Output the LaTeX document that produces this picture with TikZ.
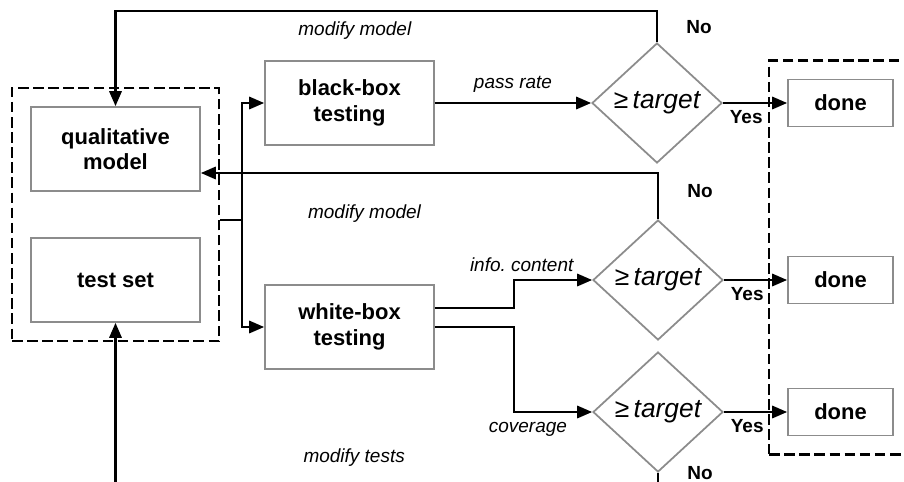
\documentclass[tikz,border=0pt]{standalone}
\usepackage{fontspec}
\setmainfont{Liberation Sans}
\usepackage{xcolor}
\usepackage{tikz}
\usetikzlibrary{arrows.meta,positioning,shapes.geometric,fit,calc}
\definecolor{boxedge}{RGB}{140,140,140}
\tikzset{
  procbox/.style={
    rectangle,
    draw=boxedge,
    line width=1pt,
    minimum width=3.38cm,
    minimum height=1.68cm,
    align=center,
    font=\fontsize{12.5}{14.5}\selectfont\bfseries
  },
  donebox/.style={
    rectangle,
    draw=boxedge,
    line width=1pt,
    minimum width=2.1cm,
    minimum height=0.94cm,
    align=center,
    font=\fontsize{12.5}{14.5}\selectfont\bfseries
  },
  decision/.style={
    diamond,
    draw=boxedge,
    line width=1pt,
    minimum width=2.6cm,
    minimum height=2.4cm,
    inner sep=0pt,
    font=\fontsize{15}{18}\selectfont\itshape
  },
  groupbox/.style={
    rectangle,
    draw=black,
    line width=1.3pt,
    dash pattern=on 6pt off 2.6pt,
    inner sep=0.36cm
  },
  flowlbl/.style={font=\fontsize{10.8}{13}\selectfont\itshape},
  answer/.style={font=\fontsize{10.8}{13}\selectfont\bfseries},
  flow/.style={-{Triangle[length=8.5pt,width=7pt]}, line width=1.3pt, black}
}

\begin{document}
\begin{tikzpicture}[x=0.02cm,y=-0.02cm]
\clip (0,0) rectangle (904,481);
\node[procbox] (qual) at (115.5,149) {qualitative\\model};
\node[procbox] (tset) at (115.5,280) {test set};
\node[groupbox, fit=(qual)(tset)] (grp) {};
\node[procbox] (bbox) at (349.5,103) {black-box\\testing};
\node[procbox] (wbox) at (349.5,327) {white-box\\testing};
\node[decision] (dec1) at (657,103) {{\upshape ≥}\,target};
\node[decision] (dec2) at (658,280) {{\upshape ≥}\,target};
\node[decision] (dec3) at (658,412) {{\upshape ≥}\,target};
\node[donebox] (done1) at (840.5,103) {done};
\node[donebox] (done2) at (840.5,280) {done};
\node[donebox] (done3) at (840.5,412) {done};
\coordinate (dedge) at ([xshift=0.4cm]done1.east);
\node[groupbox, fit=(done1)(done3)(dedge)] (dgrp) {};
\coordinate (fork) at (242,220);
\draw[line width=1.3pt] (fork -| grp.east) -- (fork);
\draw[flow] (fork) |- (bbox);
\draw[flow] (fork) |- (wbox);
\draw[flow] (bbox) -- node[flowlbl, above=2pt] {pass rate} (dec1);
\draw[flow] ([yshift=0.38cm]wbox.east) -- ++(79,0) |- node[flowlbl, pos=0.55, above=1pt] {info.\ content} (dec2);
\draw[flow] (wbox.east) -- ++(79,0) |- node[flowlbl, pos=0.59, below=2pt] {coverage} (dec3);
\draw[flow] (dec1) -- node[answer, pos=0, below right] {Yes} (done1);
\draw[flow] (dec2) -- node[answer, pos=0, below right] {Yes} (done2);
\draw[flow] (dec3) -- node[answer, pos=0, below right] {Yes} (done3);
\draw[flow] (dec1.north) -- node[answer, right=0.45cm] {No} ++(0,-31) -| node[flowlbl, pos=0.279, below=2pt] {modify model} (qual.north);
\draw[flow] (dec2.north) |- node[answer, pos=0.3, right=0.45cm] {No} node[flowlbl, pos=0.821, below=0.5cm] {modify model} ([yshift=-0.48cm]qual.east);
\draw[flow] (dec3.south) -- node[answer, pos=0.0, right=0.45cm] {No} ++(0,25) -| node[flowlbl, pos=0.28, above=0.48cm] {modify tests} (tset.south);
\end{tikzpicture}
\end{document}
